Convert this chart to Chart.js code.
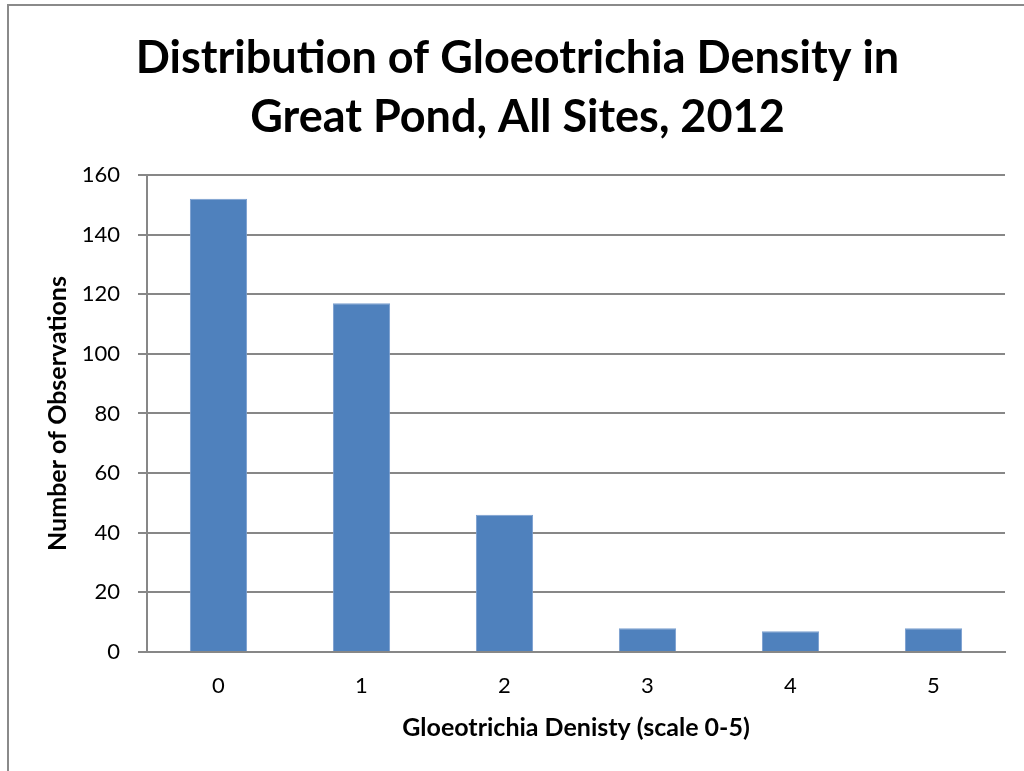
<!DOCTYPE html>
<html>
<head>
<meta charset="utf-8">
<script src="https://cdn.jsdelivr.net/npm/chart.js@4.4.0/dist/chart.umd.min.js"></script>
<style>
  html, body { margin: 0; padding: 0; background: #ffffff; }
  #wrap { width: 1024px; height: 771px; position: relative; }
</style>
</head>
<body>
<div id="wrap"><canvas id="chart" width="1024" height="771"></canvas></div>
<script>
// Density classes (0 = none, 5 = heaviest) and observation counts
const densityClasses = ['0', '1', '2', '3', '4', '5'];
const observationCounts = [152, 117, 46, 8, 7, 8];
const yTicks = [0, 20, 40, 60, 80, 100, 120, 140, 160];

const FONT = "Lato, 'Open Sans', 'Liberation Sans', sans-serif";
const GRID = '#878787';

// Outer chart frame (gray border around the whole chart object)
const framePlugin = {
  id: 'frame',
  beforeDraw(chart) {
    const ctx = chart.ctx;
    ctx.save();
    ctx.fillStyle = '#ffffff';
    ctx.fillRect(0, 0, chart.width, chart.height);
    ctx.strokeStyle = '#8a8a8a';
    ctx.lineWidth = 2;
    ctx.strokeRect(8, 5, chart.width + 20, chart.height + 20);
    ctx.restore();
  }
};

new Chart(document.getElementById('chart'), {
  type: 'bar',
  data: {
    labels: densityClasses,
    datasets: [{
      data: observationCounts,
      backgroundColor: '#4f81bd',
      borderColor: '#7a9fd0',
      borderWidth: 1,
      barPercentage: 0.4,
      categoryPercentage: 1.0
    }]
  },
  plugins: [framePlugin],
  options: {
    responsive: false,
    animation: false,
    devicePixelRatio: 1,
    layout: { padding: { left: 30, right: 19, top: 0, bottom: 28 } },
    plugins: {
      legend: { display: false },
      tooltip: { enabled: false },
      title: {
        display: true,
        text: ['Distribution of Gloeotrichia Density in', 'Great Pond, All Sites, 2012'],
        color: '#000000',
        font: { family: FONT, size: 45, weight: 'bold', lineHeight: 1.311 },
        padding: { top: 29, bottom: 28 }
      }
    },
    scales: {
      x: {
        afterFit(scale) { scale.height = 91; },
        grid: { display: false, drawTicks: false },
        border: { display: true, color: GRID, width: 2 },
        ticks: { color: '#000000', font: { family: FONT, size: 22 }, padding: 21 },
        title: {
          display: true,
          text: 'Gloeotrichia Denisty (scale 0-5)',
          color: '#000000',
          font: { family: FONT, size: 25, weight: 'bold' },
          padding: { top: 0, bottom: 0 }
        }
      },
      y: {
        min: 0,
        max: 160,
        afterBuildTicks(scale) { scale.ticks = yTicks.map(v => ({ value: v })); },
        afterFit(scale) { scale.width = 117; },
        grid: { color: GRID, lineWidth: 2, drawTicks: true, tickLength: 9 },
        border: { display: true, color: GRID, width: 2 },
        ticks: { color: '#000000', font: { family: FONT, size: 22 }, padding: 18 },
        title: {
          display: true,
          text: 'Number of Observations',
          color: '#000000',
          font: { family: FONT, size: 25, weight: 'bold' },
          padding: { top: 13, bottom: 0 }
        }
      }
    }
  }
});
</script>
</body>
</html>
